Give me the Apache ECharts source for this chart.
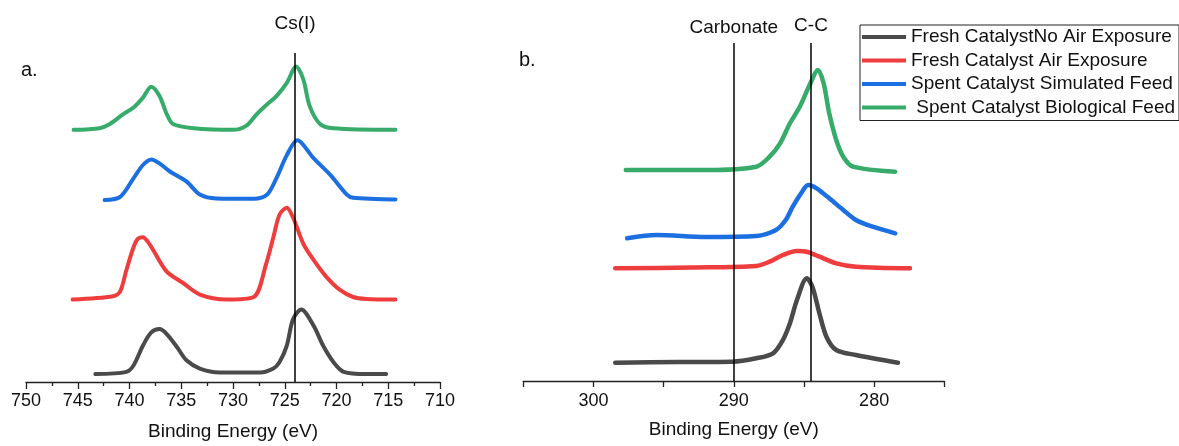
<!DOCTYPE html>
<html><head><meta charset="utf-8">
<script src="https://cdn.jsdelivr.net/npm/echarts@6/dist/echarts.min.js"></script>
<style>html,body{margin:0;padding:0;background:#fff}#c{width:1179px;height:446px}</style>
</head><body><div id="c"></div><script>
const seriesNames = ['Fresh CatalystNo Air Exposure', 'Fresh Catalyst Air Exposure', 'Spent Catalyst Simulated Feed', ' Spent Catalyst Biological Feed'];
const seriesColors = ['#4a4a4a', '#ef3d3d', '#1c6fe0', '#37ab69'];

// Panel a: Cs 3d region, [binding energy eV, offset intensity a.u.]
const csNoAir = [[743.3,8],[740.3,10.3],[739.6,17],[738.7,37],[737.9,50.3],[737.1,53.7],[736.4,48.7],[735.4,35.3],[734.5,22],[733.2,13.7],[731.3,9.7],[727.4,9.7],[726.1,13.7],[725.5,20.3],[724.8,37],[724.2,63.7],[723.4,73.7],[722.2,57],[721.3,37],[720.3,20.3],[719.3,10.3],[717.1,8],[715.2,8]];
const csAir = [[745.5,83.7],[741.6,87],[740.9,92],[740.3,113.7],[739.6,137],[739.2,145.3],[738.7,147],[738.2,142],[737.7,133.7],[736.4,112],[734.8,100.3],[733.2,88.7],[730.6,83.7],[728.0,86.3],[726.8,120],[726.1,147],[725.5,170],[724.8,177],[724.2,167],[723.2,140.3],[722.2,123.7],[721.0,107],[719.7,93.7],[718.4,86.3],[717.1,84.3],[714.3,83.7]];
const csSimulated = [[742.4,184.7],[740.9,188],[739.6,207],[738.7,220.3],[737.9,226],[737.1,222],[736.1,213.7],[734.5,203.7],[733.2,190.3],[731.6,186.3],[728.0,186],[726.7,190.3],[725.8,207],[724.8,230.3],[723.8,245.3],[722.2,227],[720.6,210.3],[719.0,190.3],[718.4,187],[714.3,185.3]];
const csBiological = [[745.4,256],[742.9,257.7],[741.9,262],[740.6,272],[739.6,278.7],[738.7,288.7],[737.9,299.7],[737.1,290.3],[736.4,272],[735.8,262],[733.8,257.7],[730.0,256],[728.7,260.3],[727.7,272],[726.7,282],[725.8,290.3],[724.8,303.7],[723.9,320.3],[723.2,307],[722.6,280.3],[721.6,262],[720.3,257.7],[714.3,256]];
const csRefLines = [{name: 'Cs(I)', energy: 724}];
const csTicks = {min: 710, max: 750, step: 5};

// Panel b: C 1s region
const cNoAir = [[298.45,20.3],[294,21],[290.1,21.3],[288.4,24.7],[287.2,29.7],[286.5,43],[286.0,59.7],[285.5,83],[284.8,104.7],[284.4,96.3],[283.9,69.7],[283.4,46.3],[282.7,33],[281.3,28],[278.3,20.3]];
const cAir = [[298.45,114.7],[293,115.5],[288.4,117],[287.45,121.3],[286.5,128],[285.5,132],[284.8,131.3],[283.9,126.3],[282.7,119.7],[281.3,116.3],[277.45,114.7]];
const cSimulated = [[297.6,144.7],[295.5,148],[292,146],[288.4,147],[287.0,153],[286.3,163],[285.8,176.3],[285.2,189.7],[284.7,198],[284.1,194.7],[283.2,184.7],[282.2,173],[281.3,163],[280.1,156.3],[278.5,149.7]];
const cBiological = [[297.7,213],[292,213],[288.4,216.3],[287.45,226.3],[286.7,239.7],[286.0,259.7],[285.3,276.3],[284.6,298],[284.0,313],[283.6,299.7],[283.2,269.7],[282.7,243],[282.2,226.3],[281.5,216.3],[278.5,211.3]];
const cRefLines = [{name: 'Carbonate', energy: 290, dist: 6}, {name: 'C-C', energy: 284.5, dist: 8}];
const cTicks = {min: 275, max: 305, step: 5, labelStep: 10};

const FONT = 'Liberation Sans, Arial, sans-serif';
const panelA = [csNoAir, csAir, csSimulated, csBiological];
const panelB = [cNoAir, cAir, cSimulated, cBiological];

const series = [];
panelA.forEach((d, i) => {
  const s = {name: seriesNames[i], type: 'line', xAxisIndex: 0, yAxisIndex: 0, data: d,
    smooth: 0.3, showSymbol: false, lineStyle: {width: 4, color: seriesColors[i], cap: 'round', join: 'round'}, itemStyle: {color: seriesColors[i]}};
  if (i === 0) s.markLine = {silent: true, symbol: 'none', lineStyle: {color: '#000', width: 1.5, type: 'solid'},
    data: csRefLines.map(r => ({xAxis: r.energy, name: r.name, label: {show: true, position: 'end', formatter: '{b}', color: '#111', fontSize: 19, fontFamily: FONT, distance: 20}}))};
  series.push(s);
});
panelB.forEach((d, i) => {
  const s = {name: seriesNames[i], type: 'line', xAxisIndex: 1, yAxisIndex: 1, data: d,
    smooth: 0.3, showSymbol: false, lineStyle: {width: 4.5, color: seriesColors[i], cap: 'round', join: 'round'}, itemStyle: {color: seriesColors[i]}};
  if (i === 0) s.markLine = {silent: true, symbol: 'none', lineStyle: {color: '#000', width: 1.5, type: 'solid'},
    data: cRefLines.map(r => ({xAxis: r.energy, name: r.name, label: {show: true, position: 'end', formatter: '{b}', color: '#111', fontSize: 19, fontFamily: FONT, distance: r.dist}}))};
  series.push(s);
});

const axisCommon = {
  type: 'value', inverse: true, nameLocation: 'middle',
  nameTextStyle: {fontSize: 19, color: '#111', fontFamily: FONT},
  axisLine: {show: true, onZero: false, lineStyle: {color: '#222', width: 1.3}},
  splitLine: {show: false},
  axisLabel: {fontSize: 18, color: '#111', fontFamily: FONT, margin: 10}
};

const chart = echarts.init(document.getElementById('c'), null, {renderer: 'canvas'});
chart.setOption({
  animation: false,
  backgroundColor: '#fff',
  title: [
    {text: 'a.', left: 16, top: 55, textStyle: {fontSize: 20, fontWeight: 'normal', color: '#111', fontFamily: FONT}},
    {text: 'b.', left: 514, top: 45, textStyle: {fontSize: 20, fontWeight: 'normal', color: '#111', fontFamily: FONT}}
  ],
  legend: {
    orient: 'vertical', left: 860, top: 25, data: seriesNames,
    icon: 'rect', itemWidth: 44, itemHeight: 4, itemGap: 3.5,
    padding: [2, 4, 3, 2], borderColor: '#222', borderWidth: 1,
    textStyle: {fontSize: 19, color: '#111', fontFamily: FONT, lineHeight: 20}
  },
  grid: [
    {left: 26, right: 739, top: 53, bottom: 59},
    {left: 523.3, right: 234.7, top: 43, bottom: 65}
  ],
  xAxis: [
    Object.assign({}, axisCommon, {gridIndex: 0, min: csTicks.min, max: csTicks.max, interval: csTicks.step,
      name: 'Binding Energy (eV)', nameGap: 40,
      axisTick: {show: true, inside: false, length: 7, lineStyle: {color: '#222', width: 1.3}},
      minorTick: {show: true, splitNumber: 2, length: 4, lineStyle: {color: '#222', width: 1.3}}}),
    Object.assign({}, axisCommon, {gridIndex: 1, min: cTicks.min, max: cTicks.max, interval: cTicks.step,
      name: 'Binding Energy (eV)', nameGap: 39,
      axisTick: {show: true, inside: false, length: 6, lineStyle: {color: '#222', width: 1.3}},
      axisLabel: Object.assign({}, axisCommon.axisLabel, {margin: 11,
        formatter: v => (v % cTicks.labelStep === 0 && v > cTicks.min && v < cTicks.max) ? String(v) : ''})})
  ],
  yAxis: [
    {type: 'value', gridIndex: 0, min: 0, max: 334, show: false},
    {type: 'value', gridIndex: 1, min: 2, max: 340, show: false}
  ],
  series: series
});
</script></body></html>
